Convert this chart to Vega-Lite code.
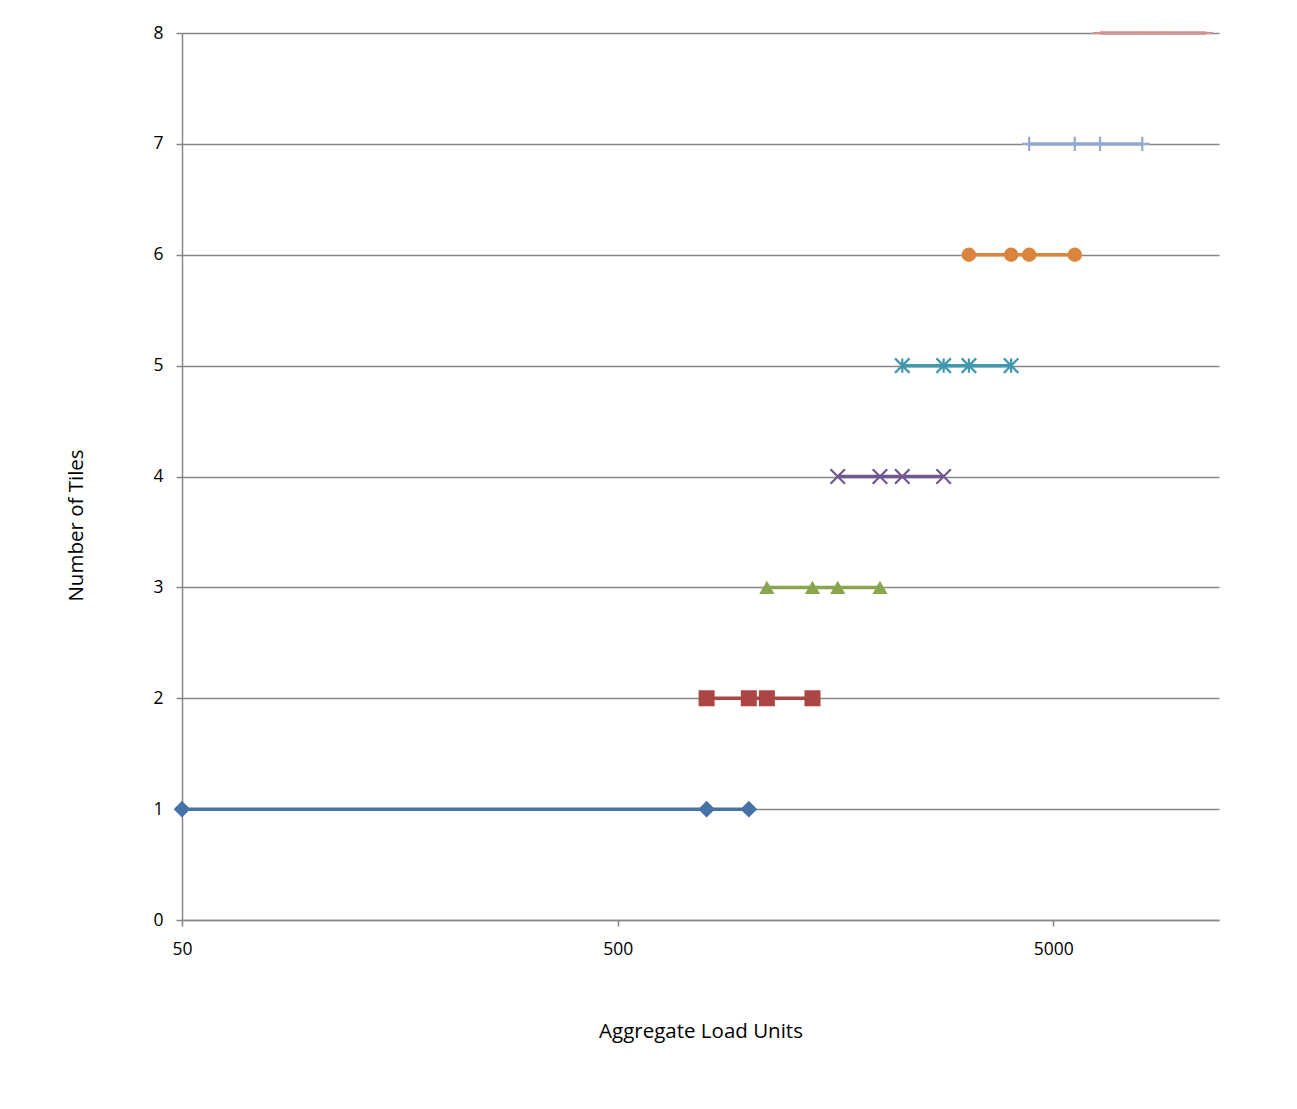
{
  "$schema": "https://vega.github.io/schema/vega-lite/v6.json",
  "autosize": "none",
  "width": 1037,
  "height": 887,
  "padding": {"left": 182, "top": 33, "right": 78, "bottom": 189},
  "background": "white",
  "config": {
    "view": {"stroke": null},
    "font": "Open Sans",
    "axis": {
      "labelFont": "Open Sans",
      "titleFont": "Open Sans",
      "labelColor": "#000000",
      "titleColor": "#000000",
      "labelFontSize": 17.5,
      "titleFontSize": 20.5,
      "titleFontWeight": "normal",
      "domainColor": "#878787",
      "domainWidth": 1.5,
      "tickColor": "#878787",
      "tickWidth": 1.5,
      "tickSize": 6,
      "gridColor": "#878787",
      "gridWidth": 1.5
    }
  },
  "data": {
    "values": [
      {"tiles": 1, "load": 50},
      {"tiles": 1, "load": 800},
      {"tiles": 1, "load": 1000},
      {"tiles": 2, "load": 800},
      {"tiles": 2, "load": 1000},
      {"tiles": 2, "load": 1100},
      {"tiles": 2, "load": 1400},
      {"tiles": 3, "load": 1100},
      {"tiles": 3, "load": 1400},
      {"tiles": 3, "load": 1600},
      {"tiles": 3, "load": 2000},
      {"tiles": 4, "load": 1600},
      {"tiles": 4, "load": 2000},
      {"tiles": 4, "load": 2250},
      {"tiles": 4, "load": 2800},
      {"tiles": 5, "load": 2250},
      {"tiles": 5, "load": 2800},
      {"tiles": 5, "load": 3200},
      {"tiles": 5, "load": 4000},
      {"tiles": 6, "load": 3200},
      {"tiles": 6, "load": 4000},
      {"tiles": 6, "load": 4400},
      {"tiles": 6, "load": 5600},
      {"tiles": 7, "load": 4400},
      {"tiles": 7, "load": 5600},
      {"tiles": 7, "load": 6400},
      {"tiles": 7, "load": 8000},
      {"tiles": 8, "load": 6400},
      {"tiles": 8, "load": 8000},
      {"tiles": 8, "load": 9000},
      {"tiles": 8, "load": 11200}
    ]
  },
  "encoding": {
    "x": {
      "field": "load",
      "type": "quantitative",
      "scale": {"type": "log", "domain": [50, 12000], "nice": false},
      "axis": {
        "title": "Aggregate Load Units",
        "values": [50, 500, 5000],
        "format": "d",
        "grid": false,
        "labelPadding": 14,
        "labelFlush": false,
        "titleY": 111,
        "titleBaseline": "middle"
      }
    },
    "y": {
      "field": "tiles",
      "type": "quantitative",
      "scale": {"domain": [0, 8], "nice": false},
      "axis": {
        "title": "Number of Tiles",
        "values": [0, 1, 2, 3, 4, 5, 6, 7, 8],
        "grid": true,
        "labelPadding": 13,
        "labelFlush": false,
        "titleAngle": -90,
        "titleX": -106,
        "titleY": 492,
        "titleAlign": "center",
        "titleBaseline": "middle"
      }
    },
    "color": {
      "field": "tiles",
      "type": "nominal",
      "legend": null,
      "scale": {
        "domain": [1, 2, 3, 4, 5, 6, 7, 8],
        "range": ["#4572A7", "#AA4643", "#89A54E", "#71588F", "#4198AF", "#DB843D", "#93A9CF", "#D19392"]
      }
    }
  },
  "resolve": {"scale": {"shape": "independent", "size": "independent", "strokeWidth": "independent"}},
  "layer": [
    {
      "mark": {"type": "line", "strokeWidth": 3.5, "clip": false},
      "encoding": {"detail": {"field": "tiles", "type": "nominal"}}
    },
    {
      "transform": [{"filter": {"field": "tiles", "oneOf": [1, 2, 3, 6]}}],
      "mark": {"type": "point", "filled": true, "opacity": 1, "clip": false},
      "encoding": {
        "shape": {
          "field": "tiles",
          "type": "nominal",
          "legend": null,
          "scale": {"domain": [1, 2, 3, 6], "range": ["diamond", "square", "triangle-up", "circle"]}
        },
        "size": {
          "field": "tiles",
          "type": "nominal",
          "legend": null,
          "scale": {"domain": [1, 2, 3, 6], "range": [280, 210, 240, 215]}
        }
      }
    },
    {
      "transform": [{"filter": {"field": "tiles", "oneOf": [4, 5, 7, 8]}}],
      "mark": {"type": "point", "filled": false, "opacity": 1, "clip": false, "strokeCap": "butt"},
      "encoding": {
        "shape": {
          "field": "tiles",
          "type": "nominal",
          "legend": null,
          "scale": {"domain": [4, 5, 7, 8], "range": ["M-1,-1L1,1M-1,1L1,-1", "M-1,-1L1,1M-1,1L1,-1M0,-1L0,1", "M-1,0L1,0M0,-1L0,1", "M-1,0L1,0"]}
        },
        "size": {
          "field": "tiles",
          "type": "nominal",
          "legend": null,
          "scale": {"domain": [4, 5, 7, 8], "range": [210, 210, 256, 81]}
        },
        "strokeWidth": {
          "field": "tiles",
          "type": "nominal",
          "legend": null,
          "scale": {"domain": [4, 5, 7, 8], "range": [2.2, 2.2, 2, 5]}
        }
      }
    }
  ]
}
